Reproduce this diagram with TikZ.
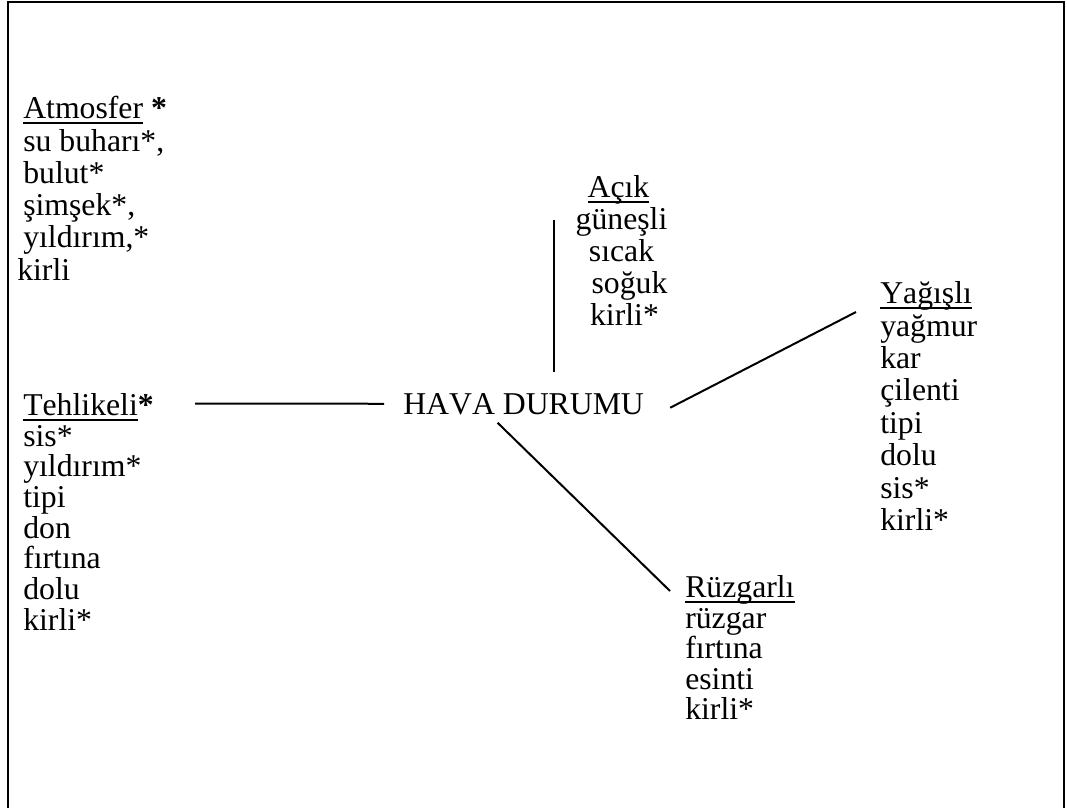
\documentclass[tikz,border=0pt]{standalone}
\usepackage{fontspec}
\setmainfont[Kerning=Off]{Liberation Serif}
\usetikzlibrary{positioning}
\newcommand{\undl}[1]{\setbox0=\hbox{#1}\rlap{\rule[-0.17em]{\wd0}{0.06em}}\box0\relax}
\tikzset{
	grp/.style={align=left, inner sep=0pt, anchor=north west, font=\fontsize{23.8}{#1}\selectfont},
	link/.style={line width=1.5pt},
	frame/.style={line width=1.5pt}
}

\begin{document}
\begin{tikzpicture}[x=0.75pt, y=-0.75pt]

	\clip (0,0) rectangle (1067,807);
	\draw[frame] (8,2) rectangle (1064,840);

	\node[grp=24.2] (atm) at (23,96.3) {\undl{Atmosfer} \textbf{*}\\ su buharı*,\\ bulut*\\ şimşek*,\\ yıldırım,*\\ \hspace*{-4.5pt}kirli};

	\node[grp=23] (teh) at (23,393.3) {\undl{Tehlikeli}\textbf{*}\\ sis*\\ yıldırım*\\ tipi\\ don\\ fırtına\\ dolu\\ kirli*};

	\node[grp=24, align=center, anchor=north] (acik) at (621.5,175.3) {\undl{Açık}\hspace*{4.5pt}\\ güneşli\\ sıcak\\ \hspace*{12pt}soğuk\\ \hspace*{4.5pt}kirli*};

	\node[grp=24.3] (yag) at (880,281.5) {\undl{Yağışlı}\\ yağmur\\ kar\\ çilenti\\ tipi\\ dolu\\ sis*\\ kirli*};

	\node[grp=22.9] (ruz) at (685,575.3) {\undl{Rüzgarlı}\\ rüzgar\\ fırtına\\ esinti\\ kirli*};

	\node[inner sep=0pt, anchor=base west, font=\fontsize{23.8}{24}\selectfont] (hava) at (403,414) {HAVA DURUMU};

	\coordinate (teh-e) at (195,403.5);
	\coordinate (acik-w) at (554,220);
	\coordinate (yag-w) at (856,312);
	\coordinate (ruz-w) at (670,591);

	\draw[link] ([shift={(-19,0)}]hava.west) -- (teh-e);
	\draw[link, shorten >=15.6pt] (acik-w) -- (acik-w |- hava.north);
	\draw[link] ([shift={(26,-7)}]hava.south east) -- (yag-w);
	\draw[link] ([shift={(-26,8)}]hava.south) -- (ruz-w);

\end{tikzpicture}
\end{document}
